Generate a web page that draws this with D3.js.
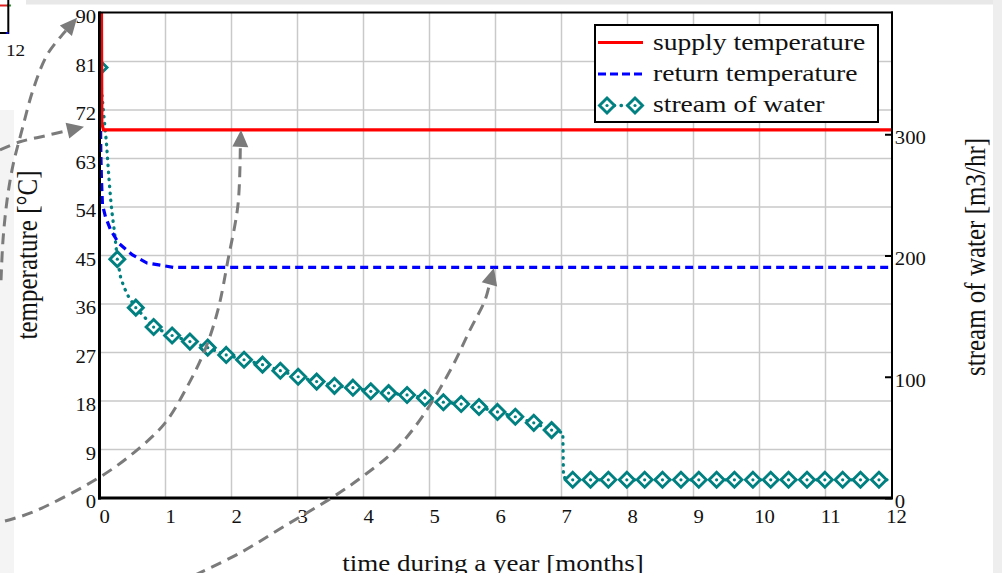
<!DOCTYPE html>
<html>
<head>
<meta charset="utf-8">
<script src="https://cdn.jsdelivr.net/npm/d3@7"></script>
<style>
  html, body { margin: 0; padding: 0; background: #fff; }
  svg { display: block; }
  text { font-family: "Liberation Serif", "Times New Roman", serif; fill: #111; }
</style>
</head>
<body>
<svg id="chart" width="1002" height="573"></svg>
<script>
// ---- axis ticks ----
const monthTicks = [0, 1, 2, 3, 4, 5, 6, 7, 8, 9, 10, 11, 12];
const tempTicks = [0, 9, 18, 27, 36, 45, 54, 63, 72, 81, 90];
const flowTicks = [0, 100, 200, 300];

// ---- supply temperature [°C] ----
const supplyTimes = [0.03, 0.035, 0.06, 12];
const supplyTemps = [90, 69.5, 68.3, 68.3];

// ---- return temperature [°C] ----
const returnTimes = [0.015, 0.02, 0.03, 0.045, 0.09, 0.17, 0.29, 0.5, 0.72, 0.92, 1.12, 12];
const returnTemps = [70.5, 64, 59, 54.4, 52.2, 49.7, 47.3, 45.1, 43.6, 43.2, 42.8, 42.8];

// ---- stream of water [m3/hr], marked samples ----
const flowMarkTimes = [0, 0.27, 0.55, 0.82, 1.10, 1.37, 1.64, 1.92, 2.19, 2.47, 2.74, 3.01, 3.29,
  3.56, 3.84, 4.11, 4.38, 4.66, 4.93, 5.21, 5.48, 5.75, 6.03, 6.30, 6.58, 6.85,
  7.17, 7.44, 7.71, 7.99, 8.26, 8.53, 8.81, 9.08, 9.35, 9.62, 9.90, 10.17, 10.44,
  10.72, 10.99, 11.26, 11.53, 11.81];
const flowMarkValues = [355, 197, 157, 141, 134, 129, 124, 118, 114, 110, 105, 100, 96,
  92.5, 91, 88, 86.5, 85, 82.5, 79, 77.5, 75, 71, 67, 62, 56,
  15, 15, 15, 15, 15, 15, 15, 15, 15, 15, 15, 15, 15,
  15, 15, 15, 15, 15];
// intermediate samples of the same curve (steep start, step at month 7, end of year)
const flowBendTimes = [0.04, 0.065, 0.105, 0.14, 0.17, 0.19, 0.23, 0.32, 0.37, 0.44, 7.02, 7.03, 12];
const flowBendValues = [331, 316, 293, 266, 246, 235, 218, 182, 174, 166, 54, 17, 15];

// ---- annotation arrows, in (month, °C) ----
const arrowSupply = [[-1.432, -4.27], [-1.008, -2.6], [0.008, 3.9], [0.568, 8.9], [0.992, 13.9],
  [1.326, 20.6], [1.598, 27.5], [1.795, 34.9], [1.947, 44.2], [2.098, 54.4], [2.144, 68.3]];
const arrowReturn = [[1.447, -14.3], [2.129, -10.2], [2.78, -5.38], [3.538, 0.19], [3.977, 3.9],
  [4.477, 8.9], [4.886, 15.0], [5.341, 24.3], [5.614, 31.2], [5.841, 36.7], [5.977, 42.7]];
const arrowTop = [[-1.492, 40.4], [-1.462, 47.9], [-1.40, 55.3], [-1.31, 61.8], [-1.174, 68.3],
  [-1.008, 75.7], [-0.795, 82.2], [-0.568, 85.9], [-0.34, 89.1]];
const arrowMid = [[-1.508, 64.6], [-1.205, 66.1], [-0.826, 67.2], [-0.235, 68.9]];

const W = 1002, H = 573;
const svg = d3.select("#chart");

// page background panels
svg.append("rect").attr("width", W).attr("height", H).attr("fill", "#fff");
svg.append("rect").attr("x", 26).attr("y", 0).attr("width", W - 26).attr("height", 4.5).attr("fill", "#e8e8e8");
svg.append("rect").attr("x", 993).attr("y", 0).attr("width", 9).attr("height", H).attr("fill", "#eeeeee");
svg.append("rect").attr("x", 0).attr("y", 110).attr("width", 14).attr("height", H - 110).attr("fill", "#f4f4f4");

// corner of the neighbouring figure
const frag = svg.append("g");
frag.append("line").attr("x1", 0).attr("x2", 8).attr("y1", 5.5).attr("y2", 5.5).attr("stroke", "#e02020").attr("stroke-width", 2);
frag.append("line").attr("x1", 7).attr("x2", 11).attr("y1", 5.5).attr("y2", 5.5).attr("stroke", "#2a9a2a").attr("stroke-width", 2);
frag.append("line").attr("x1", 8.3).attr("x2", 8.3).attr("y1", 0).attr("y2", 34).attr("stroke", "#000").attr("stroke-width", 2);
frag.append("line").attr("x1", 0).attr("x2", 8.3).attr("y1", 33).attr("y2", 33).attr("stroke", "#000").attr("stroke-width", 2);
frag.append("rect").attr("x", 6.5).attr("y", 32).attr("width", 2).attr("height", 2).attr("fill", "#0000ff");
frag.append("text").attr("transform", "translate(6,56) scale(1.2,1)").attr("font-size", 16).text("12");

// scales
const x = d3.scaleLinear().domain([0, 12]).range([99.5, 891.5]);
const yT = d3.scaleLinear().domain([0, 90]).range([498, 13]);
const yF = d3.scaleLinear().domain([0, 400]).range([498, 13]);

// grid
const grid = svg.append("g");
grid.selectAll("line.gx").data(monthTicks.slice(1, -1)).join("line").attr("class", "gx")
  .attr("x1", d => x(d)).attr("x2", d => x(d)).attr("y1", yT(90)).attr("y2", yT(0))
  .attr("stroke", "#c9c9c9").attr("stroke-width", 1.5);
grid.selectAll("line.gy").data(tempTicks.slice(1, -1)).join("line").attr("class", "gy")
  .attr("x1", x(0)).attr("x2", x(12)).attr("y1", d => yT(d)).attr("y2", d => yT(d))
  .attr("stroke", "#c9c9c9").attr("stroke-width", 1.5);

// plot clip
svg.append("clipPath").attr("id", "plotClip").append("rect")
  .attr("x", x(0)).attr("y", yT(90)).attr("width", x(12) - x(0) + 1).attr("height", yT(0) - yT(90));
const plot = svg.append("g").attr("clip-path", "url(#plotClip)");

const lineT = d3.line().x(d => x(d[0])).y(d => yT(d[1]));
const lineF = d3.line().x(d => x(d[0])).y(d => yF(d[1]));

const returnData = returnTimes.map((t, i) => [t, returnTemps[i]]);
const supplyData = supplyTimes.map((t, i) => [t, supplyTemps[i]]);
const flowMarks = flowMarkTimes.map((t, i) => [t, flowMarkValues[i]]);
const flowData = flowMarks.concat(flowBendTimes.map((t, i) => [t, flowBendValues[i]]))
  .sort((a, b) => a[0] - b[0]);

const teal = "#008080";

// stream of water: dotted curve + diamond markers
plot.append("path").datum(flowData).attr("d", lineF)
  .attr("fill", "none").attr("stroke", teal).attr("stroke-width", 3.3)
  .attr("stroke-linecap", "round").attr("stroke-dasharray", "0.5 6.5");
const diamond = "M0,-7.5L7.5,0L0,7.5L-7.5,0Z";
const mk = plot.selectAll("g.mk").data(flowMarks).join("g").attr("class", "mk")
  .attr("transform", d => `translate(${x(d[0])},${yF(d[1])})`);
mk.append("path").attr("d", diamond).attr("fill", "#fff").attr("stroke", teal).attr("stroke-width", 2.9);
mk.append("circle").attr("r", 1.6).attr("fill", teal);

// return temperature
plot.append("path").datum(returnData).attr("d", lineT)
  .attr("fill", "none").attr("stroke", "#0000ff").attr("stroke-width", 3.2)
  .attr("stroke-dasharray", "8 5");

// supply temperature
plot.append("path").datum(supplyData).attr("d", lineT)
  .attr("fill", "none").attr("stroke", "#ff0000").attr("stroke-width", 3.2);

// frame
const frame = svg.append("g").attr("stroke", "#000");
frame.append("line").attr("x1", x(0) - 1).attr("x2", x(12) + 1.5).attr("y1", yT(90) - 0.5).attr("y2", yT(90) - 0.5).attr("stroke-width", 2);
frame.append("line").attr("x1", x(12) + 0.5).attr("x2", x(12) + 0.5).attr("y1", yT(90) - 1.5).attr("y2", yT(0) + 1).attr("stroke-width", 2);
frame.append("line").attr("x1", x(0)).attr("x2", x(0)).attr("y1", yT(90) - 1.5).attr("y2", yT(0) + 1.5).attr("stroke-width", 3);
frame.append("line").attr("x1", x(0) - 1.5).attr("x2", x(12) + 1.5).attr("y1", yT(0)).attr("y2", yT(0)).attr("stroke-width", 3);

// axes
const tickFont = 18;
const axL = svg.append("g").attr("transform", `translate(${x(0)},0)`)
  .call(d3.axisLeft(yT).tickValues(tempTicks).tickSize(0).tickPadding(3));
axL.select(".domain").remove();
axL.selectAll("text").attr("font-size", tickFont).attr("font-family", null).attr("fill", "#111")
  .attr("y", 4).attr("transform", "scale(1.15,1)");

const axB = svg.append("g").attr("transform", `translate(0,${yT(0)})`)
  .call(d3.axisBottom(x).tickValues(monthTicks).tickFormat(d3.format("d")).tickSize(0).tickPadding(12.6));
axB.select(".domain").remove();
axB.selectAll("text").attr("font-size", tickFont).attr("font-family", null).attr("fill", "#111")
  .attr("x", 4).attr("transform", "scale(1.15,1)");

const axR = svg.append("g").attr("transform", `translate(${x(12) + 0.5},0)`)
  .call(d3.axisRight(yF).tickValues(flowTicks).tickSize(-7).tickPadding(3));
axR.select(".domain").remove();
axR.selectAll("line").attr("stroke", "#000").attr("stroke-width", 2);
axR.selectAll("text").attr("font-size", tickFont).attr("font-family", null).attr("fill", "#111")
  .attr("x", 2.5).attr("y", 3.5).attr("transform", "scale(1.15,1)");

// axis titles
svg.append("text").attr("transform", "translate(493,571) scale(1.2,1)")
  .attr("text-anchor", "middle").attr("font-size", 22.5).text("time during a year [months]");
svg.append("text").attr("transform", "translate(37,255) rotate(-90) scale(1,1.2)")
  .attr("text-anchor", "middle").attr("font-size", 25).text("temperature [°C]");
svg.append("text").attr("transform", "translate(985,257) rotate(-90) scale(1,1.2)")
  .attr("text-anchor", "middle").attr("font-size", 25).text("stream of water [m3/hr]");

// legend
const lg = svg.append("g");
lg.append("rect").attr("x", 595).attr("y", 25).attr("width", 283).attr("height", 97)
  .attr("fill", "#fff").attr("stroke", "#000").attr("stroke-width", 2);
lg.append("line").attr("x1", 598).attr("x2", 643).attr("y1", 42.5).attr("y2", 42.5)
  .attr("stroke", "#ff0000").attr("stroke-width", 3.2);
lg.append("line").attr("x1", 598).attr("x2", 643).attr("y1", 74).attr("y2", 74)
  .attr("stroke", "#0000ff").attr("stroke-width", 3.2).attr("stroke-dasharray", "8 4");
lg.append("line").attr("x1", 607).attr("x2", 635).attr("y1", 105.5).attr("y2", 105.5)
  .attr("stroke", teal).attr("stroke-width", 3.3).attr("stroke-linecap", "round").attr("stroke-dasharray", "0.5 6.5");
[607, 635].forEach(cx => {
  const g = lg.append("g").attr("transform", `translate(${cx},105.5)`);
  g.append("path").attr("d", diamond).attr("fill", "#fff").attr("stroke", teal).attr("stroke-width", 2.9);
  g.append("circle").attr("r", 1.6).attr("fill", teal);
});
const legendLabels = ["supply temperature", "return temperature", "stream of water"];
const legendBase = [49.5, 80.5, 111.5];
legendLabels.forEach((s, i) => {
  lg.append("text").attr("transform", `translate(653,${legendBase[i]}) scale(1.2,1)`)
    .attr("font-size", 23).text(s);
});

// annotation arrows
const arrowColor = "#7b7b7b";
const arrowLine = d3.line().curve(d3.curveCatmullRom.alpha(0.5));
function drawArrow(pts) {
  const p = pts.map(d => [x(d[0]), yT(d[1])]);
  const tip = p[p.length - 1], prev = p[p.length - 2];
  const dx = tip[0] - prev[0], dy = tip[1] - prev[1];
  const len = Math.hypot(dx, dy), ux = dx / len, uy = dy / len;
  const hl = 17, hw = 8;
  const base = [tip[0] - ux * hl, tip[1] - uy * hl];
  const body = p.slice(0, -1).concat([base]);
  svg.append("path").attr("d", arrowLine(body)).attr("fill", "none")
    .attr("stroke", arrowColor).attr("stroke-width", 3).attr("stroke-dasharray", "11 7");
  svg.append("path")
    .attr("d", `M${tip[0]},${tip[1]}L${base[0] - uy * hw},${base[1] + ux * hw}L${base[0] + uy * hw},${base[1] - ux * hw}Z`)
    .attr("fill", arrowColor);
}
[arrowSupply, arrowReturn, arrowTop, arrowMid].forEach(drawArrow);
</script>
</body>
</html>
